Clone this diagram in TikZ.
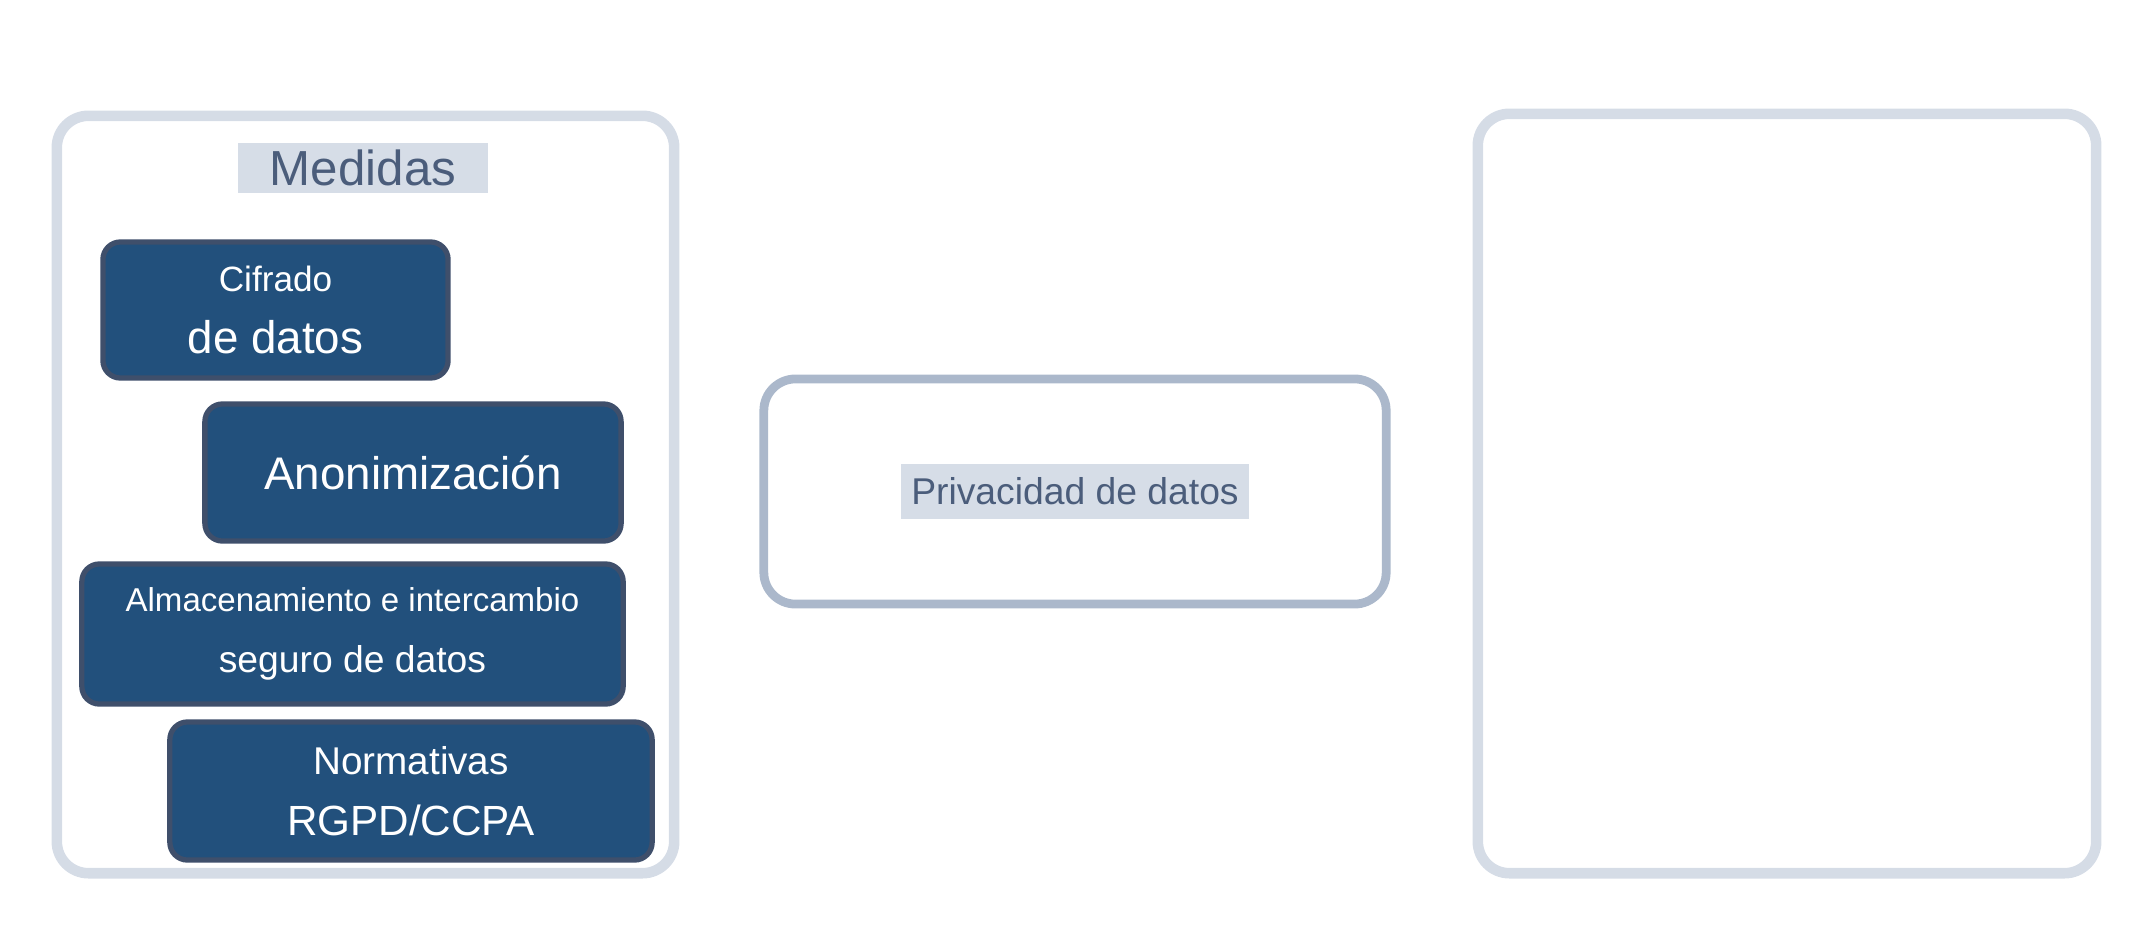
\documentclass[tikz,border=0pt]{standalone}
\usepackage{fontspec}
\setmainfont{Liberation Sans}
\definecolor{boxblue}{HTML}{22507C}
\definecolor{boxedge}{HTML}{3F4F6B}
\definecolor{paleedge}{HTML}{D5DCE6}
\definecolor{midedge}{HTML}{ABB8CB}
\definecolor{labeltext}{HTML}{4B5D7B}
\definecolor{marker}{HTML}{D6DDE7}
\begin{document}
\begin{tikzpicture}[x=0.01cm,y=-0.01cm,
	panel/.style={draw=paleedge,line width=3pt,rounded corners=9pt,inner sep=0pt},
	measure/.style={draw=boxedge,fill=boxblue,line width=1.5pt,rounded corners=5pt,
		text=white,align=center,inner sep=0pt,font=\fontsize{13}{17.5}\selectfont},
	marked/.style={fill=marker,text=labeltext,inner xsep=5pt,inner ysep=2pt}]
	\useasboundingbox (0,0) rectangle (2148,930);
	% outer panels
	\node[panel,minimum width=6.17cm,minimum height=7.57cm] (measures) at (365.5,494.5) {};
	\node[panel,minimum width=6.18cm,minimum height=7.59cm] (outcome) at (1787,493.5) {};
	\node[marked,inner xsep=9pt,font=\fontsize{14}{17}\selectfont] (measureslabel) at (363,168) {Medidas};
	% the four measures
	\node[measure,minimum width=3.45cm,minimum height=1.36cm] (cipher) at (275.5,310)
		{{\fontsize{10}{12}\selectfont Cifrado}\\de datos};
	\node[measure,minimum width=4.16cm,minimum height=1.37cm] (anonym) at (413,472.5)
		{Anonimización};
	\node[measure,minimum width=5.41cm,minimum height=1.40cm] (storage) at (352.5,634)
		{{\fontsize{9.4}{12}\selectfont Almacenamiento e intercambio}\\{\fontsize{10.6}{12}\selectfont seguro de datos}};
	\node[measure,minimum width=4.82cm,minimum height=1.38cm] (rules) at (411,791)
		{{\fontsize{11}{12}\selectfont Normativas}\\{\fontsize{12}{14}\selectfont RGPD/CCPA}};
	% centre
	\node[panel,draw=midedge,line width=2.5pt,minimum width=6.22cm,minimum height=2.25cm] (privacy) at (1075,491.5) {};
	\node[marked,inner xsep=3pt,inner ysep=4pt,font=\fontsize{10.6}{13}\selectfont] (privacylabel) at (privacy.center) {Privacidad de datos};
\end{tikzpicture}
\end{document}
